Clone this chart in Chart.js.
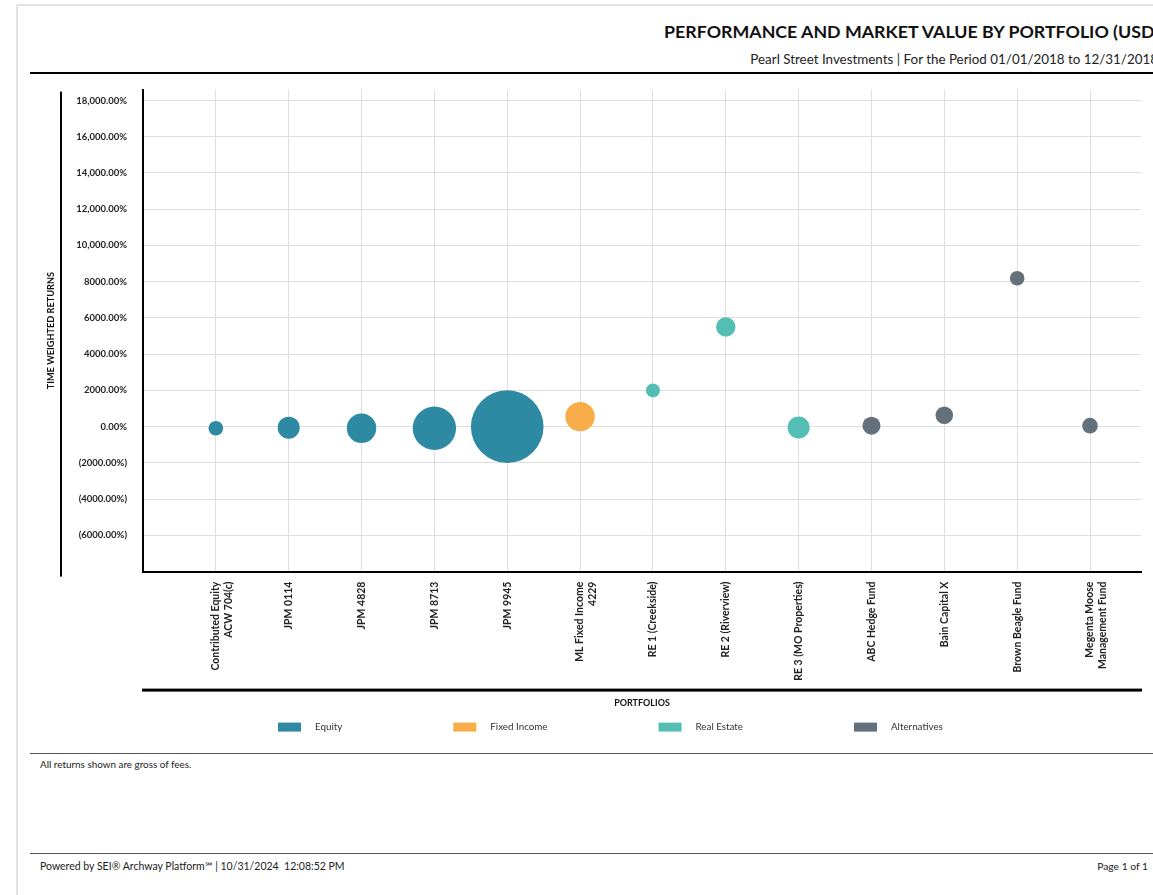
<!DOCTYPE html>
<html>
<head>
<meta charset="utf-8">
<script src="https://cdn.jsdelivr.net/npm/chart.js@4.4.0/dist/chart.umd.min.js"></script>
<style>
html, body { margin:0; padding:0; background:#fff; overflow:hidden; width:1153px; height:895px; }
body { font-family: Lato, "Open Sans", sans-serif; color:#222; position:relative; }
.frame { position:absolute; left:16px; top:4px; width:1200px; height:900px; border-left:2px solid #e4e4e4; border-top:2px solid #e4e4e4; }
.title { position:absolute; right:-6px; top:20px; font-weight:bold; font-size:17.8px; white-space:nowrap; color:#111; }
.subtitle { position:absolute; right:-5px; top:51px; font-size:13.4px; white-space:nowrap; color:#222; }
.rule { position:absolute; left:30px; width:1140px; }
.note { position:absolute; left:40px; font-size:9.9px; color:#222; white-space:nowrap; }
.foot { position:absolute; left:40px; font-size:10.5px; color:#222; white-space:nowrap; }
.pageno { position:absolute; right:5px; font-size:10.3px; color:#222; }
#wrap { position:absolute; left:30px; top:80px; width:1130px; height:660px; }
</style>
</head>
<body>
<div class="frame"></div>
<div class="title">PERFORMANCE AND MARKET VALUE BY PORTFOLIO (USD)</div>
<div class="subtitle">Pearl Street Investments | For the Period 01/01/2018 to 12/31/2018</div>
<div class="rule" style="top:72px; height:2px; background:#000;"></div>
<div id="wrap"><canvas id="bubbleChart" width="1130" height="660"></canvas></div>
<div class="rule" style="top:753px; height:1px; background:#555;"></div>
<div class="note" style="top:758px;">All returns shown are gross of fees.</div>
<div class="rule" style="top:853px; height:1px; background:#555;"></div>
<div class="foot" style="top:860px;">Powered by SEI® Archway Platform℠ | 10/31/2024&nbsp; 12:08:52 PM</div>
<div class="pageno" style="top:860px;">Page 1 of 1</div>
<script>
// portfolios along the x axis
var portfolios = [
	['Contributed Equity', 'ACW 704(c)'], 'JPM 0114', 'JPM 4828', 'JPM 8713', 'JPM 9945',
	['ML Fixed Income', '4229'], 'RE 1 (Creekside)', 'RE 2 (Riverview)', 'RE 3 (MO Properties)',
	'ABC Hedge Fund', 'Bain Capital X', 'Brown Beagle Fund', ['Megenta Moose', 'Management Fund']
];
var assetClass = ['Equity', 'Equity', 'Equity', 'Equity', 'Equity', 'Fixed Income',
	'Real Estate', 'Real Estate', 'Real Estate', 'Alternatives', 'Alternatives', 'Alternatives', 'Alternatives'];
// time weighted returns in %
var twr = [-90, -55, -90, -90, 0, 550, 2000, 5500, -50, 55, 630, 8190, 55];
// bubble size (market value)
var marketValueSize = [7.3, 11, 14.7, 21.7, 36.3, 14.7, 7, 9.7, 11, 9, 8.8, 7.3, 7.8];
var classes = ['Equity', 'Fixed Income', 'Real Estate', 'Alternatives'];
var classColors = ['#2E8AA2', '#F8AD4B', '#55BEB4', '#64717B'];
var yTicks = [-8000, -6000, -4000, -2000, 0, 2000, 4000, 6000, 8000, 10000, 12000, 14000, 16000, 18000];

function fmtPct(v) {
	var a = Math.abs(v);
	var s = a >= 10000 ? a.toLocaleString('en-US', {minimumFractionDigits: 2, maximumFractionDigits: 2}) : a.toFixed(2);
	return v < 0 ? '(' + s + '%)' : s + '%';
}

var datasets = [];
for (var c = 0; c < classes.length; c++) {
	var pts = [];
	for (var i = 0; i < portfolios.length; i++) {
		if (assetClass[i] == classes[c]) {
			pts.push({x: i, y: twr[i], r: marketValueSize[i]});
		}
	}
	datasets.push({
		label: classes[c],
		data: pts,
		backgroundColor: classColors[c],
		borderWidth: 0
	});
}

// extra lines + legend drawn like the report
var decorPlugin = {
	id: 'decor',
	afterDraw: function(chart) {
		var ctx = chart.ctx, a = chart.chartArea;
		ctx.save();
		ctx.fillStyle = '#000';
		ctx.fillRect(a.left - 83, a.top + 2, 2, a.bottom - a.top + 3);
		ctx.fillRect(a.left - 1, a.bottom + 117, a.right - a.left + 2, 3);
		ctx.font = '9.8px Lato';
		ctx.textBaseline = 'middle';
		var x = a.left + 135, y = a.bottom + 155.5;
		chart.data.datasets.forEach(function(ds) {
			ctx.fillStyle = ds.backgroundColor;
			ctx.fillRect(x, y - 4.5, 23, 9);
			x += 37;
			ctx.fillStyle = '#333';
			ctx.fillText(ds.label, x, y);
			x += ctx.measureText(ds.label).width + 111;
		});
		ctx.restore();
	}
};

Chart.defaults.font.family = 'Lato';
var chart = new Chart(document.getElementById('bubbleChart'), {
	type: 'bubble',
	data: { datasets: datasets },
	plugins: [decorPlugin],
	options: {
		responsive: false,
		animation: false,
		layout: { autoPadding: false, padding: { left: 12, right: 19, top: 9.6, bottom: 32 } },
		plugins: {
			legend: { display: false },
			tooltip: { enabled: false }
		},
		scales: {
			x: {
				type: 'linear',
				min: -1,
				max: 12.7,
				afterBuildTicks: function(scale) {
					scale.ticks = portfolios.map(function(p, i) { return {value: i}; });
				},
				afterFit: function(scale) { scale.height = 136.4; },
				grid: { color: '#dedede', lineWidth: 1, drawTicks: false },
				border: { color: '#000', width: 2 },
				ticks: {
					autoSkip: false,
					minRotation: 90,
					maxRotation: 90,
					padding: 10,
					color: '#222',
					font: { size: 10.5, weight: 'bold' },
					callback: function(value) { return portfolios[value]; }
				},
				title: {
					display: true,
					text: 'PORTFOLIOS',
					color: '#111',
					font: { size: 9, weight: 'bold' },
					padding: 0
				}
			},
			y: {
				min: -8000,
				max: 18600,
				afterBuildTicks: function(scale) {
					scale.ticks = yTicks.map(function(v) { return {value: v}; });
				},
				afterFit: function(scale) { scale.width = 101; },
				grid: { color: '#dedede', lineWidth: 1, drawTicks: true, tickLength: 16, tickColor: 'rgba(0,0,0,0)' },
				border: { color: '#000', width: 2 },
				ticks: {
					padding: 0,
					color: '#222',
					font: { size: 9.5, weight: 'bold' },
					callback: function(value) { return value == -8000 ? '' : fmtPct(value); }
				},
				title: {
					display: true,
					text: 'TIME WEIGHTED RETURNS',
					color: '#111',
					font: { size: 9.2, weight: 'bold' },
					padding: { top: 4, bottom: 0 }
				}
			}
		}
	}
});
</script>
</body>
</html>
